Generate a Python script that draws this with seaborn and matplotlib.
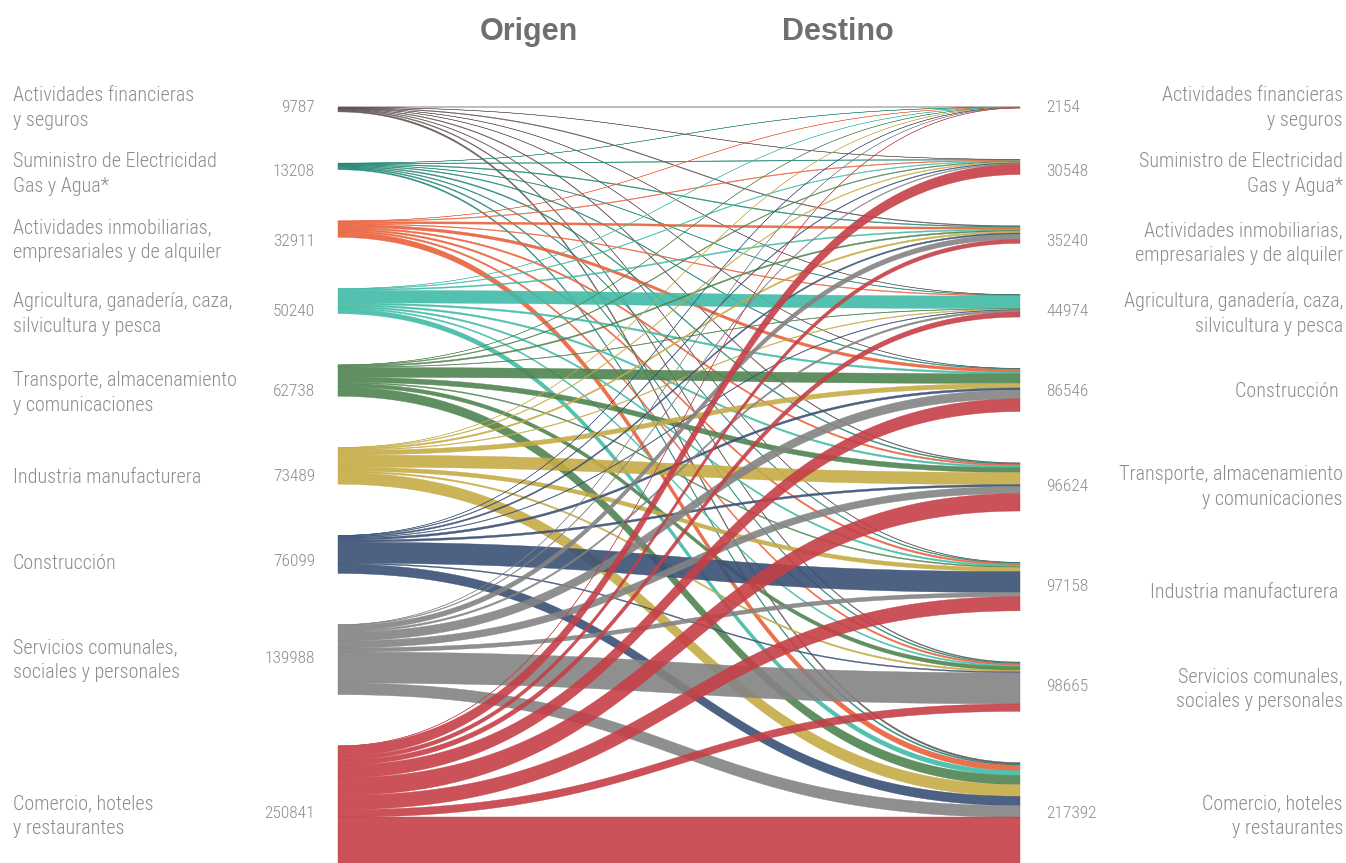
import numpy as np
import matplotlib
matplotlib.use("Agg")
import matplotlib.pyplot as plt
from matplotlib import font_manager
import seaborn as sns

# ---------------- data ----------------
origin_labels = [
    "Actividades financieras\ny seguros",
    "Suministro de Electricidad\nGas y Agua*",
    "Actividades inmobiliarias,\nempresariales y de alquiler",
    "Agricultura, ganadería, caza,\nsilvicultura y pesca",
    "Transporte, almacenamiento\ny comunicaciones",
    "Industria manufacturera",
    "Construcción",
    "Servicios comunales,\nsociales y personales",
    "Comercio, hoteles\ny restaurantes",
]
origin_totals = [9787, 13208, 32911, 50240, 62738, 73489, 76099, 139988, 250841]

dest_labels = [
    "Actividades financieras\ny seguros",
    "Suministro de Electricidad\nGas y Agua*",
    "Actividades inmobiliarias,\nempresariales y de alquiler",
    "Agricultura, ganadería, caza,\nsilvicultura y pesca",
    "Construcción ",
    "Transporte, almacenamiento\ny comunicaciones",
    "Industria manufacturera ",
    "Servicios comunales,\nsociales y personales",
    "Comercio, hoteles\ny restaurantes",
]
dest_totals = [2154, 30548, 35240, 44974, 86546, 96624, 97158, 98665, 217392]

# flows: one list per origin (row), values per destination (column)
flow_fin = [300, 400, 1300, 500, 546, 1324, 800, 1617, 3000]
flow_sum = [200, 1200, 1500, 900, 1500, 2000, 1500, 1908, 2500]
flow_inm = [300, 1300, 4000, 1500, 5500, 3000, 3321, 3140, 10850]
flow_agr = [200, 1300, 2200, 25000, 3300, 3300, 3000, 2500, 9440]
flow_tra = [200, 1500, 2500, 1000, 19538, 10000, 2000, 7500, 18500]
flow_ind = [200, 1500, 3000, 1500, 9000, 24000, 8000, 3000, 23289]
flow_con = [200, 1300, 2740, 1074, 4162, 4000, 42000, 2000, 18623]
flow_ser = [250, 1548, 10000, 3500, 17500, 14000, 8000, 62000, 23190]
flow_com = [304, 20500, 8000, 10000, 25500, 35000, 28537, 15000, 108000]

flows = np.array([flow_fin, flow_sum, flow_inm, flow_agr, flow_tra,
                  flow_ind, flow_con, flow_ser, flow_com], dtype=float)

colors = ["#5f5250", "#1f8472", "#e9603b", "#40bba6", "#4f8450",
          "#c6ab45", "#3a5075", "#838383", "#c53f46"]

# ---------------- style ----------------
sns.set_theme(style="white")
names = {f.name for f in font_manager.fontManager.ttflist}
label_font = "DejaVu Sans"
for cand in ["Roboto Condensed", "Liberation Sans Narrow", "Roboto"]:
    if cand in names:
        label_font = cand
        break
title_font = "Liberation Sans" if "Liberation Sans" in names else "DejaVu Sans"
plt.rcParams["font.family"] = [label_font, "DejaVu Sans"]

W, H = 1346, 863
fig = plt.figure(figsize=(W / 100, H / 100), dpi=100)
ax = fig.add_axes([0, 0, 1, 1])
ax.set_xlim(0, W)
ax.set_ylim(H, 0)
ax.axis("off")

# layout
xL, xR = 338, 1020
top = 107
gap = 51.2
scale = 0.0005  # px per unit

row_sum = flows.sum(axis=1)
col_sum = flows.sum(axis=0)
left_top = top + np.concatenate([[0], np.cumsum(row_sum * scale + gap)[:-1]])
right_top = top + np.concatenate([[0], np.cumsum(col_sum * scale + gap)[:-1]])

t = np.linspace(0, 1, 120)
xm = (xL + xR) / 2
bx = (1 - t) ** 3 * xL + 3 * (1 - t) ** 2 * t * xm + 3 * (1 - t) * t ** 2 * xm + t ** 3 * xR
def by(y0, y1):
    return (1 - t) ** 3 * y0 + 3 * (1 - t) ** 2 * t * y0 + 3 * (1 - t) * t ** 2 * y1 + t ** 3 * y1

n = flows.shape[0]
right_start = np.zeros((n, n))
for j in range(n):
    acc = 0.0
    for i in range(n):
        right_start[i, j] = right_top[j] + acc
        acc += flows[i, j] * scale

for i in range(n):
    acc = 0.0
    for j in range(n):
        w = flows[i, j] * scale
        y0 = left_top[i] + acc
        y1 = right_start[i, j]
        acc += w
        top_edge = by(y0, y1)
        bot_edge = by(y0 + w, y1 + w)
        xs = np.concatenate([bx, bx[::-1]])
        ys = np.concatenate([top_edge, bot_edge[::-1]])
        ax.fill(xs, ys, color=colors[i], alpha=0.9, lw=0.3, ec=colors[i])

# labels
txt_col = "#8c8c8c"
left_label_y = [108, 174, 240, 314, 393, 477, 563, 660, 816]
left_val_y = [107, 171, 241, 311, 391, 476, 561, 658, 813]
right_label_y = [108, 174, 243, 314, 391, 487, 592, 689, 816]
right_val_y = [107, 171, 241, 311, 391, 486, 586, 686, 813]

fs = 14.5
for k in range(n):
    ax.text(13, left_label_y[k], origin_labels[k], ha="left", va="center",
            fontsize=fs, color=txt_col, fontweight="light", linespacing=1.38)
    ax.text(315, left_val_y[k], f"{origin_totals[k]}", ha="right", va="center",
            fontsize=12.5, color=txt_col, fontweight="light")
    ax.text(1343, right_label_y[k], dest_labels[k], ha="right", va="center",
            fontsize=fs, color=txt_col, fontweight="light", linespacing=1.38,
            multialignment="right")
    ax.text(1046, right_val_y[k], f"{dest_totals[k]}", ha="left", va="center",
            fontsize=12.5, color=txt_col, fontweight="light")

ax.text(529, 32, "Origen", ha="center", va="center", fontsize=22,
        fontweight="bold", color="#6f6f6f", family=[title_font, "DejaVu Sans"])
ax.text(838, 32, "Destino", ha="center", va="center", fontsize=22,
        fontweight="bold", color="#6f6f6f", family=[title_font, "DejaVu Sans"])

fig.savefig("out.png", dpi=100)
